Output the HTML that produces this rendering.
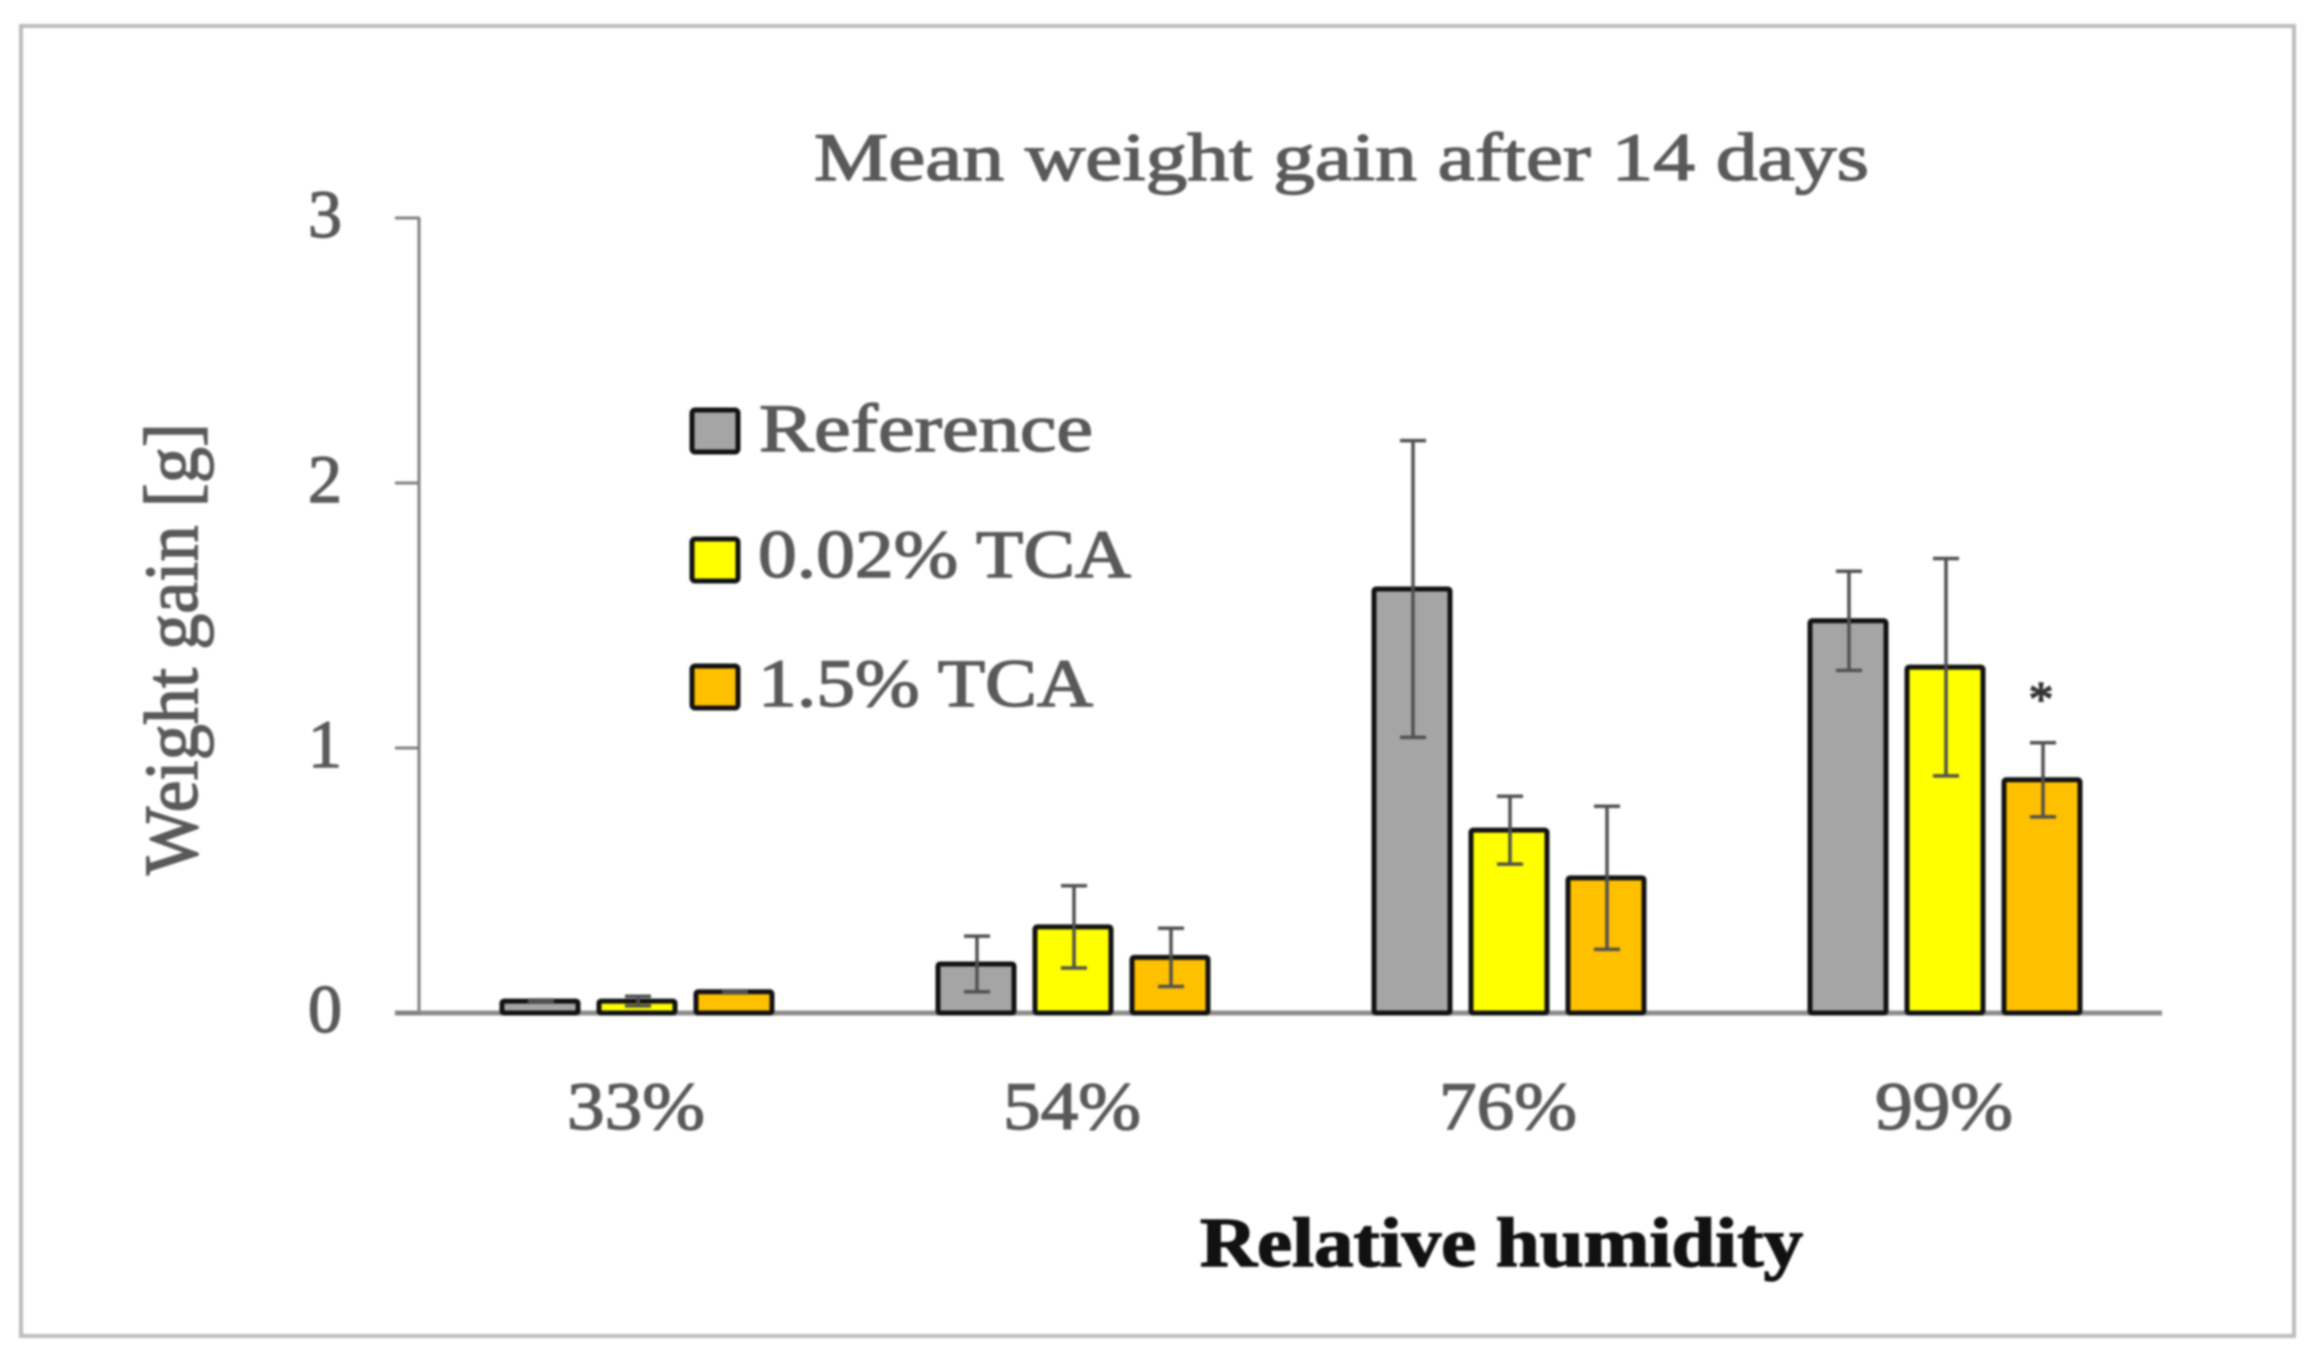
<!DOCTYPE html>
<html lang="en">
<head>
<meta charset="utf-8">
<title>Mean weight gain after 14 days</title>
<style>
  html, body { margin: 0; padding: 0; background: #fff; }
  #chart { display: block; width: 2313px; height: 1360px; filter: blur(1px); }
  text { font-family: "Liberation Serif", serif; stroke: currentColor; stroke-width: 1.4px; }
</style>
</head>
<body>
<svg id="chart" xmlns="http://www.w3.org/2000/svg" width="2313" height="1360" viewBox="0 0 2313 1360">
  <rect x="0" y="0" width="2313" height="1360" fill="#ffffff"/>
  <rect x="21" y="26" width="2273" height="1310" fill="none" stroke="#bdbdbd" stroke-width="4"/>
  <text x="814" y="180" font-size="68" fill="#595959" color="#595959" textLength="1055" lengthAdjust="spacingAndGlyphs">Mean weight gain after 14 days</text>
  <text transform="translate(197,875) rotate(-90)" x="0" y="0" font-size="76" fill="#595959" color="#595959" textLength="452" lengthAdjust="spacingAndGlyphs">Weight gain [g]</text>
  <text x="1200" y="1266" font-size="70" font-weight="bold" fill="#111111" color="#111111" textLength="603" lengthAdjust="spacingAndGlyphs">Relative humidity</text>

  <g>
    <rect x="692" y="410" width="46" height="42" rx="3" fill="#a5a5a5" stroke="#111111" stroke-width="5"/>
    <text x="759" y="451" font-size="68" fill="#595959" color="#595959" textLength="334" lengthAdjust="spacingAndGlyphs">Reference</text>
    <rect x="692" y="539" width="46" height="42" rx="3" fill="#ffff00" stroke="#111111" stroke-width="5"/>
    <text x="758" y="577" font-size="68" fill="#595959" color="#595959" textLength="373" lengthAdjust="spacingAndGlyphs">0.02% TCA</text>
    <rect x="692" y="666" width="46" height="42" rx="3" fill="#ffc000" stroke="#111111" stroke-width="5"/>
    <text x="758" y="706" font-size="68" fill="#595959" color="#595959" textLength="335" lengthAdjust="spacingAndGlyphs">1.5% TCA</text>
  </g>
  <g id="plot"></g>
</svg>
<script>
const categories = ["33%", "54%", "76%", "99%"];
const yTicks = [0, 1, 2, 3];
const seriesNames = ["reference", "tca-002", "tca-15"];
const seriesColors = ["#a5a5a5", "#ffff00", "#ffc000"];
const referenceMeans = [0.045, 0.185, 1.6, 1.48];
const tca002Means = [0.045, 0.325, 0.69, 1.305];
const tca15Means = [0.08, 0.21, 0.51, 0.88];
const referenceErrors = [0.004, 0.105, 0.56, 0.187];
const tca002Errors = [0.018, 0.155, 0.128, 0.41];
const tca15Errors = [0.004, 0.11, 0.27, 0.14];
const significanceMarks = ["", "", "", "*"];

const meansBySeries = [referenceMeans, tca002Means, tca15Means];
const errorsBySeries = [referenceErrors, tca002Errors, tca15Errors];

const NS = "http://www.w3.org/2000/svg";
const plot = document.getElementById("plot");
const axisX = 420, bandWidth = 436, baseY = 1013, unitHeight = 265;
const barStep = 97, barWidth = 76;

function xScale(categoryIndex) { return axisX + bandWidth * (categoryIndex + 0.5); }
function yScale(value) { return baseY - value * unitHeight; }
function make(tag, props) {
  const el = document.createElementNS(NS, tag);
  for (const key in props) el.setAttribute(key, props[key]);
  plot.appendChild(el);
  return el;
}

const yAxisLine = make("line", { x1: axisX - 1, x2: axisX - 1, y1: yScale(yTicks[yTicks.length - 1]), y2: baseY, stroke: "#808080", "stroke-width": 3 });



const xAxisLine = make("line", { x1: axisX - 25, x2: axisX + bandWidth * categories.length - 2, y1: baseY, y2: baseY, stroke: "#8c8c8c", "stroke-width": 5 });



yTicks.forEach(function (tick) {
  const y = yScale(tick);
  const tickMark = make("line", { x1: axisX - 25, x2: axisX, y1: y, y2: y, stroke: "#808080", "stroke-width": 3 });
  
  
  const tickLabel = make("text", { x: 325, y: y + 19, "font-size": 68, fill: "#595959", color: "#595959", "text-anchor": "middle" });
  
  
  tickLabel.textContent = String(tick);
});

categories.forEach(function (category, c) {
  const categoryLabel = make("text", { x: xScale(c) - 71, y: 1129, "font-size": 68, fill: "#595959", color: "#595959", textLength: 138, lengthAdjust: "spacingAndGlyphs" });
  
  
  categoryLabel.textContent = category;

  meansBySeries.forEach(function (means, s) {
    const cx = xScale(c) + (s - 1) * barStep;
    const top = yScale(means[c]);
    const bar = make("rect", { x: cx - barWidth / 2 - 1, y: top, width: barWidth, height: baseY - top, rx: 2, fill: seriesColors[s], stroke: "#111111", "stroke-width": 5 });
    
    

    const err = errorsBySeries[s][c];
    const hi = yScale(means[c] + err);
    const lo = yScale(means[c] - err);
    const stem = make("line", { x1: cx, x2: cx, y1: hi, y2: lo, stroke: "#505050", "stroke-width": 3.5 });
    
    
    const capTop = make("line", { x1: cx - 13, x2: cx + 13, y1: hi, y2: hi, stroke: "#505050", "stroke-width": 3.5 });
    
    
    const capBottom = make("line", { x1: cx - 13, x2: cx + 13, y1: lo, y2: lo, stroke: "#505050", "stroke-width": 3.5 });
    
    

    if (s === 2 && significanceMarks[c]) {
      const star = make("text", { x: cx - 2, y: hi - 27, "font-size": 50, fill: "#333333", color: "#333333", "text-anchor": "middle" });
      
      
      star.textContent = significanceMarks[c];
    }
  });
});
</script>
</body>
</html>
